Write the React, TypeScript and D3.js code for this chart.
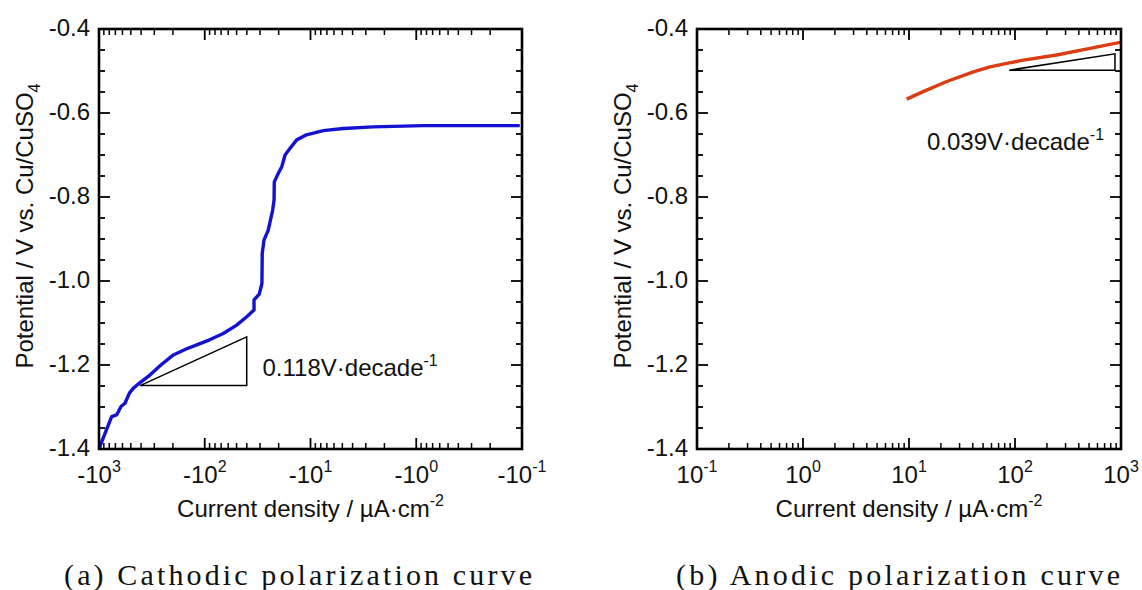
import React from 'react';
import * as d3 from 'd3';

const W = 1142;
const H = 590;

// Cathodic polarization curve (current density in µA/cm², potential in V vs Cu/CuSO4)
const cathodicCurrent = [
  -990, -977, -877, -759, -681, -619, -568, -516, -473, -409, -330, -260, -198, -150, -119, -90,
  -66.8, -49.9, -40.1, -34.2, -34.2, -30.5, -28.8, -28.6, -27.5, -25.1, -22.8, -22.1, -22.0,
  -20.2, -18.7, -17.4, -15.6, -13.5, -10.9, -7.57, -4.9, -2.55, -0.857, -0.3, -0.105,
];
const cathodicPotential = [
  -1.4, -1.393, -1.363, -1.323, -1.319, -1.299, -1.291, -1.267, -1.255, -1.242, -1.224, -1.2,
  -1.176, -1.162, -1.152, -1.14, -1.125, -1.105, -1.085, -1.069, -1.045, -1.031, -1.006, -0.934,
  -0.902, -0.879, -0.831, -0.807, -0.764, -0.744, -0.728, -0.7, -0.684, -0.664, -0.652, -0.642,
  -0.637, -0.633, -0.63, -0.63, -0.63,
];

// Anodic polarization curve
const anodicCurrent = [9.5, 13.6, 22.7, 40.5, 58.1, 83.6, 120, 247, 510, 980];
const anodicPotential = [-0.567, -0.549, -0.525, -0.502, -0.49, -0.482, -0.474, -0.462, -0.446, -0.432];

// Tafel slope triangles (corner points)
const cathodicTriCurrent = [-409, -40.1, -40.1];
const cathodicTriPotential = [-1.249, -1.249, -1.133];
const anodicTriCurrent = [88.3, 877, 877];
const anodicTriPotential = [-0.498, -0.498, -0.459];

const cathodicTicks = [-1000, -100, -10, -1, -0.1];
const cathodicTickBase = ['-10', '-10', '-10', '-10', '-10'];
const cathodicTickExp = ['3', '2', '1', '0', '-1'];
const anodicTicks = [0.1, 1, 10, 100, 1000];
const anodicTickBase = ['10', '10', '10', '10', '10'];
const anodicTickExp = ['-1', '0', '1', '2', '3'];
const potentialTicks = [-0.4, -0.6, -0.8, -1.0, -1.2, -1.4];
const potentialTickLabels = ['-0.4', '-0.6', '-0.8', '-1.0', '-1.2', '-1.4'];

const FONT = '"Liberation Sans", Arial, sans-serif';
const SERIF = '"Liberation Serif", "DejaVu Serif", serif';

type PanelProps = {
  left: number;
  right: number;
  xDomain: [number, number];
  ticks: number[];
  tickBase: string[];
  tickExp: string[];
  current: number[];
  potential: number[];
  color: string;
  triCurrent: number[];
  triPotential: number[];
  slopeText: string;
  slopeX: number;
  slopeY: number;
  sign: number;
};

const TOP = 29;
const BOTTOM = 449;

function Panel(p: PanelProps) {
  const x = d3.scaleLog().domain(p.xDomain).range([p.left, p.right]);
  const y = d3.scaleLinear().domain([-1.4, -0.4]).range([BOTTOM, TOP]);

  const minor: number[] = [];
  for (let k = -1; k <= 2; k++) {
    for (let m = 2; m <= 9; m++) minor.push(p.sign * m * Math.pow(10, k));
  }
  const yMinor: number[] = d3.range(0, 21).map((i) => -1.4 + i * 0.05);

  const line = d3
    .line<number>()
    .x((_, i) => x(p.current[i]))
    .y((_, i) => y(p.potential[i]));
  const pathD = line(p.current) || '';

  const tri =
    p.triCurrent.map((c, i) => `${i === 0 ? 'M' : 'L'}${x(c)},${y(p.triPotential[i])}`).join('') + 'Z';

  const MAJ = 11;
  const MIN = 6;
  const cx = (p.left + p.right) / 2;

  return (
    <g>
      <path d={pathD} fill="none" stroke={p.color} strokeWidth={3.4} strokeLinejoin="round" />
      <path d={tri} fill="none" stroke="#000" strokeWidth={1.5} />
      <text x={p.slopeX} y={p.slopeY} fontFamily={FONT} fontSize={24} fill="#111">
        {p.slopeText}
        <tspan fontSize={16} dy={-10}>-1</tspan>
      </text>

      {/* x ticks */}
      {p.ticks.map((t) => (
        <g key={'xt' + t}>
          <line x1={x(t)} x2={x(t)} y1={BOTTOM} y2={BOTTOM - MAJ} stroke="#000" strokeWidth={1.8} />
          <line x1={x(t)} x2={x(t)} y1={TOP} y2={TOP + MAJ} stroke="#000" strokeWidth={1.8} />
        </g>
      ))}
      {minor.map((t) => (
        <g key={'xm' + t}>
          <line x1={x(t)} x2={x(t)} y1={BOTTOM} y2={BOTTOM - MIN} stroke="#000" strokeWidth={1.5} />
          <line x1={x(t)} x2={x(t)} y1={TOP} y2={TOP + MIN} stroke="#000" strokeWidth={1.5} />
        </g>
      ))}
      {/* y ticks */}
      {yMinor.map((v, i) => {
        const major = i % 4 === 0;
        const len = major ? MAJ : MIN;
        return (
          <g key={'yt' + i}>
            <line x1={p.left} x2={p.left + len} y1={y(v)} y2={y(v)} stroke="#000" strokeWidth={1.8} />
            <line x1={p.right} x2={p.right - len} y1={y(v)} y2={y(v)} stroke="#000" strokeWidth={1.8} />
          </g>
        );
      })}
      <rect
        x={p.left}
        y={TOP}
        width={p.right - p.left}
        height={BOTTOM - TOP}
        fill="none"
        stroke="#000"
        strokeWidth={2.6}
      />

      {/* tick labels */}
      {p.ticks.map((t, i) => (
        <text key={'xl' + t} x={x(t)} y={483} textAnchor="middle" fontFamily={FONT} fontSize={24} fill="#111">
          {p.tickBase[i]}
          <tspan fontSize={16} dy={-11}>{p.tickExp[i]}</tspan>
        </text>
      ))}
      {potentialTicks.map((v, i) => (
        <text key={'yl' + i} x={p.left - 9} y={y(v) + 7} textAnchor="end" fontFamily={FONT} fontSize={24} fill="#111">
          {potentialTickLabels[i]}
        </text>
      ))}

      {/* axis titles */}
      <text x={cx} y={517} textAnchor="middle" fontFamily={FONT} fontSize={24} fill="#111">
        Current density / µA·cm
        <tspan fontSize={16} dy={-11}>-2</tspan>
      </text>
      <text
        transform={`translate(${p.left - 66},226) rotate(-90)`}
        textAnchor="middle"
        fontFamily={FONT}
        fontSize={24}
        fill="#111"
      >
        Potential / V vs. Cu/CuSO
        <tspan fontSize={16} dy={7}>4</tspan>
      </text>
    </g>
  );
}

export default function App() {
  return (
    <svg
      width={W}
      height={H}
      style={{ position: 'absolute', left: 0, top: 0, background: '#fff' }}
      xmlns="http://www.w3.org/2000/svg"
    >
      <rect x={0} y={0} width={W} height={H} fill="#fff" />
      <Panel
        left={99}
        right={522}
        xDomain={[-1000, -0.1]}
        ticks={cathodicTicks}
        tickBase={cathodicTickBase}
        tickExp={cathodicTickExp}
        current={cathodicCurrent}
        potential={cathodicPotential}
        color="#1212d0"
        triCurrent={cathodicTriCurrent}
        triPotential={cathodicTriPotential}
        slopeText="0.118V·decade"
        slopeX={262.5}
        slopeY={376}
        sign={-1}
      />
      <Panel
        left={697}
        right={1121}
        xDomain={[0.1, 1000]}
        ticks={anodicTicks}
        tickBase={anodicTickBase}
        tickExp={anodicTickExp}
        current={anodicCurrent}
        potential={anodicPotential}
        color="#dc3c12"
        triCurrent={anodicTriCurrent}
        triPotential={anodicTriPotential}
        slopeText="0.039V·decade"
        slopeX={927}
        slopeY={150}
        sign={1}
      />
      <text
        x={64}
        y={585}
        fontFamily={SERIF}
        fontSize={30}
        fill="#111"
        textLength={468}
        lengthAdjust="spacing"
      >
        (a) Cathodic polarization curve
      </text>
      <text
        x={676}
        y={585}
        fontFamily={SERIF}
        fontSize={30}
        fill="#111"
        textLength={444}
        lengthAdjust="spacing"
      >
        (b) Anodic polarization curve
      </text>
    </svg>
  );
}
